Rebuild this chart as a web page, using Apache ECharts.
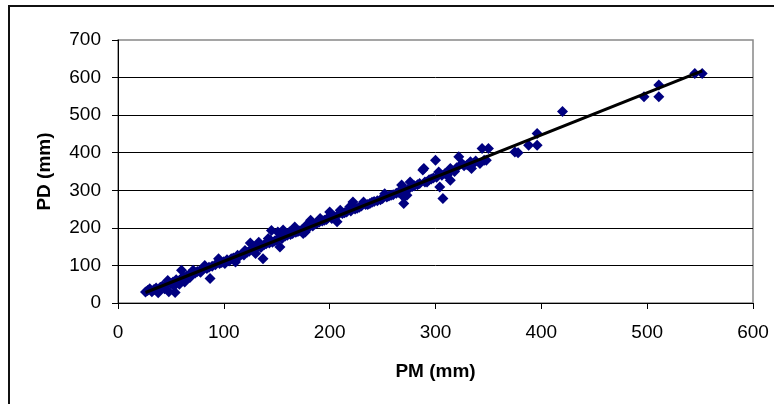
<!DOCTYPE html>
<html>
<head>
<meta charset="utf-8">
<style>
  html, body { margin: 0; padding: 0; background: #fff; }
  #chart { width: 774px; height: 404px; }
</style>
<script src="https://cdn.jsdelivr.net/npm/echarts@6/dist/echarts.min.js"></script>
</head>
<body>
<div id="chart"></div>
<script>
// PM vs PD readings (mm).
const pmPd = [
  [26,29],[28,33],[30,38],[32,30],[34,36],[36,40],[38,27],[40,42],[42,45],[44,38],
  [45,48],[47,60],[48,30],[50,52],[52,56],[53,45],[54,28],[55,62],[57,58],[58,50],
  [60,87],[60,66],[62,70],[63,56],[65,72],[67,75],[68,68],[70,78],[71,87],[73,80],
  [75,84],[77,85],[78,82],[80,90],[82,100],[84,92],[86,95],[87,65],[89,98],[92,102],
  [95,118],[96,105],[98,108],[100,110],[101,105],
  [103,115],[105,112],[107,118],[109,120],[111,109],[113,127],[115,125],[117,130],[119,128],[120,140],
  [122,135],[124,138],[125,160],[127,142],[129,145],[130,132],[132,150],[133,162],[135,148],[137,118],
  [138,155],[140,158],[142,172],[143,160],[144,167],[145,193],[146,162],[148,165],[150,168],[151,189],
  [153,149],[153,176],[155,172],[156,194],[158,178],[160,180],[162,189],[163,182],[165,185],[167,202],
  [168,188],[170,190],[172,192],[174,195],[175,185],[177,189],[178,207],[180,200],[182,220],[184,205],
  [186,210],[188,212],[190,215],[191,225],[193,218],[195,220],[197,222],[199,228],[200,242],[202,225],
  [204,230],[207,216],[208,235],
  [210,247],[212,238],[214,240],[216,242],[219,256],[220,245],[222,269],[224,250],[226,252],[228,255],
  [230,258],[232,269],[234,262],[236,262],[238,265],[240,268],[242,270],[245,272],[248,275],[250,278],
  [252,291],[254,282],[256,285],[258,287],[260,288],[263,292],[265,295],[268,314],[270,282],[270,265],
  [272,300],[273,287],[275,305],[276,322],[278,310],[280,312],[283,315],[285,318],[288,354],[289,358],
  [290,322],[292,322],[294,328],[296,330],[298,333],[300,380],[301,335],[303,349],[304,309],[306,340],
  [307,278],[309,345],[311,340],
  [314,327],[314,358],[315,354],[318,350],[320,360],[322,389],[325,371],[327,365],[330,368],[333,376],
  [334,358],[336,372],[338,378],[342,371],[344,411],[346,380],[348,380],[350,411],[375,402],[378,400],
  [388,420],[396,451],[396,420],[420,510],[497,549],[511,580],[511,549],[545,611],[552,611]
];
const xTicks = [0, 100, 200, 300, 400, 500, 600];
const yTicks = [0, 100, 200, 300, 400, 500, 600, 700];

// least-squares trend line, like the spreadsheet's linear trendline
function fitLine(pts) {
  const n = pts.length;
  let sx = 0, sy = 0, sxx = 0, sxy = 0;
  pts.forEach(([x, y]) => { sx += x; sy += y; sxx += x * x; sxy += x * y; });
  const b = (n * sxy - sx * sy) / (n * sxx - sx * sx);
  const a = (sy - b * sx) / n;
  const xs = pts.map(p => p[0]);
  const x0 = Math.min(...xs), x1 = Math.max(...xs);
  return [[x0, a + b * x0], [x1, a + b * x1]];
}

const FONT = '"Liberation Sans", Arial, sans-serif';
const chart = echarts.init(document.getElementById('chart'), null, { renderer: 'canvas' });

chart.setOption({
  animation: false,
  backgroundColor: '#fff',
  textStyle: { fontFamily: FONT },
  graphic: [{
    type: 'rect',
    shape: { x: 9, y: 6, width: 800, height: 500 },
    style: { fill: 'none', stroke: '#111', lineWidth: 2 },
    silent: true, z: 0
  }],
  grid: {
    left: 118, right: 21, top: 40, bottom: 101,
    show: true, borderColor: '#888', borderWidth: 1.5, backgroundColor: 'transparent'
  },
  xAxis: {
    type: 'value',
    min: xTicks[0], max: xTicks[xTicks.length - 1], interval: 100,
    name: 'PM (mm)', nameLocation: 'middle', nameGap: 59,
    nameTextStyle: { fontFamily: FONT, fontSize: 19, fontWeight: 'bold', color: '#000' },
    axisLine: { show: true, onZero: false, lineStyle: { color: '#000', width: 1 } },
    axisTick: { show: true, inside: false, length: 6, lineStyle: { color: '#000' } },
    axisLabel: { margin: 20, fontFamily: FONT, fontSize: 19, color: '#000' },
    splitLine: { show: false }
  },
  yAxis: {
    type: 'value',
    min: yTicks[0], max: yTicks[yTicks.length - 1], interval: 100,
    name: 'PD (mm)', nameLocation: 'middle', nameGap: 64, nameRotate: 90,
    nameTextStyle: { fontFamily: FONT, fontSize: 19, fontWeight: 'bold', color: '#000' },
    axisLine: { show: true, onZero: false, lineStyle: { color: '#000', width: 1 } },
    axisTick: { show: true, inside: false, length: 6, lineStyle: { color: '#000' } },
    axisLabel: { margin: 17, fontFamily: FONT, fontSize: 19, color: '#000' },
    splitLine: { show: true, showMinLine: false, showMaxLine: false, lineStyle: { color: '#000', width: 1 } }
  },
  series: [
    {
      type: 'scatter',
      data: pmPd,
      symbol: 'diamond',
      symbolSize: 11,
      itemStyle: { color: '#000080', opacity: 1 },
      z: 3
    },
    {
      type: 'line',
      data: fitLine(pmPd),
      showSymbol: false,
      symbol: 'none',
      lineStyle: { color: '#000', width: 3 },
      silent: true,
      z: 4
    }
  ]
});
</script>
</body>
</html>
